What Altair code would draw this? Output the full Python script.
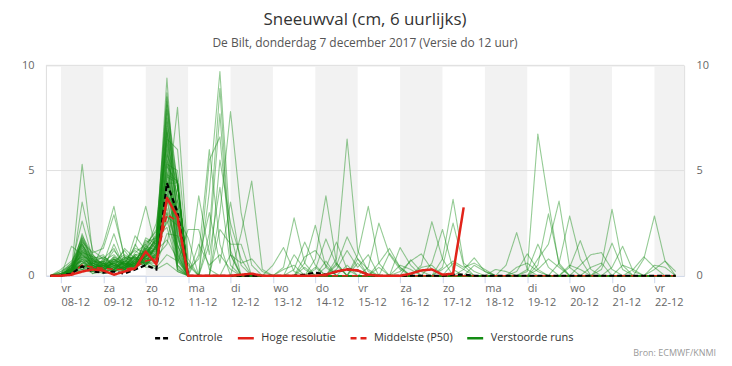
import altair as alt
import pandas as pd

title_text = "Sneeuwval (cm, 6 uurlijks)"
subtitle_text = "De Bilt, donderdag 7 december 2017 (Versie do 12 uur)"
credit_text = "Bron: ECMWF/KNMI"

# x axis: time index t in 6-hour steps, t=0 -> 07-12 18:00, t=1 -> 08-12 00:00
day_names = ["vr", "za", "zo", "ma", "di", "wo", "do", "vr", "za", "zo", "ma", "di", "wo", "do", "vr"]
day_dates = ["08-12", "09-12", "10-12", "11-12", "12-12", "13-12", "14-12", "15-12",
             "16-12", "17-12", "18-12", "19-12", "20-12", "21-12", "22-12"]
y_ticks = [0, 5, 10]

series_names = ["Controle", "Hoge resolutie", "Middelste (P50)", "Verstoorde runs"]
series_colors = ["#000000", "#e2231a", "#e2231a", "#138c13"]
series_dashes = [[5, 3], [1, 0], [6, 4], [1, 0]]

# Controle (t = 0 .. 59)
control = [0, 0, 0.1, 0.45, 0.2, 0.15, 0.2, 0.1, 0.3, 0.5,
           0.3, 4.4, 3.0, 0, 0, 0, 0, 0, 0, 0,
           0, 0, 0, 0, 0.05, 0.15, 0.05, 0.2, 0.3, 0.25,
           0.05, 0, 0, 0, 0, 0, 0, 0, 0.05, 0.05,
           0, 0, 0, 0, 0, 0, 0, 0, 0, 0,
           0, 0, 0, 0, 0, 0, 0, 0, 0, 0]
# Hoge resolutie (t = 0 .. 39)
high_res = [0, 0, 0.05, 0.2, 0.3, 0.25, 0.05, 0.2, 0.35, 1.15,
            0.55, 3.7, 2.8, 0, 0, 0, 0, 0, 0.05, 0.1,
            0, 0, 0, 0, 0, 0, 0.05, 0.2, 0.3, 0.25,
            0.05, 0, 0, 0, 0.1, 0.25, 0.3, 0.05, 0.1, 3.25]
# Middelste (P50) (t = 0 .. 59)
median_p50 = [0, 0, 0.1, 0.5, 0.4, 0.35, 0.3, 0.3, 0.4, 0.7,
              0.8, 2.9, 2.6, 0, 0, 0, 0, 0, 0, 0,
              0, 0, 0, 0, 0, 0, 0, 0, 0, 0,
              0, 0, 0, 0, 0, 0, 0, 0, 0, 0,
              0, 0, 0, 0, 0, 0, 0, 0, 0, 0,
              0, 0, 0, 0, 0, 0, 0, 0, 0, 0]

# Verstoorde runs: 50 members, values per time step t=1..13
runs_t01 = [0, 0, 0.1, 0, 0, 0.2, 0, 0, 0, 0.1, 0, 0, 0, 0.3, 0, 0, 0, 0.1, 0, 0,
            0, 0, 0, 0, 0.1, 0, 0, 0, 0, 0.2, 0, 0, 0, 0, 0, 0, 0.1, 0, 0, 0,
            0, 0, 0, 0, 0, 0.1, 0, 0, 0, 0]
runs_t02 = [0.3, 0.1, 0.5, 0.2, 0.4, 0.6, 0.1, 1.4, 0.3, 0.2, 0.5, 0.2, 0.1, 0.7, 0.3, 0.4, 0.2, 0.3, 0.1, 0.5,
            0.2, 0.3, 0.4, 0.1, 0.6, 0.2, 0.3, 0.1, 0.4, 0.5, 0.2, 0.1, 0.3, 0.2, 0.4, 0.1, 0.3, 0.2, 0.5, 0.1,
            0.3, 0.2, 0.1, 0.4, 0.2, 0.3, 0.1, 0.2, 0.3, 0.2]
runs_t03 = [5.3, 3.5, 2.6, 2.0, 1.9, 1.8, 1.8, 1.0, 1.7, 1.7, 1.6, 1.6, 1.5, 1.5, 1.4, 1.4, 1.3, 1.3, 1.2, 1.2,
            1.1, 1.1, 1.0, 1.0, 0.9, 0.9, 0.8, 0.8, 0.7, 0.7, 0.6, 0.6, 0.5, 0.5, 0.5, 0.4, 0.4, 0.3, 0.3, 0.3,
            1.2, 0.9, 0.6, 1.5, 0.8, 0.4, 1.1, 0.7, 0.5, 0.2]
runs_t04 = [1.0, 1.2, 0.8, 0.6, 1.0, 0.7, 0.9, 0.5, 0.8, 0.6, 0.4, 1.1, 0.7, 0.5, 0.9, 0.3, 0.6, 0.8, 0.4, 0.7,
            0.5, 0.9, 0.3, 0.6, 0.4, 0.8, 0.2, 0.5, 0.7, 0.3, 0.6, 0.4, 0.2, 0.5, 0.3, 0.7, 0.1, 0.4, 0.6, 0.2,
            0.5, 0.3, 0.8, 0.4, 0.2, 0.6, 0.3, 0.1, 0.4, 0.3]
runs_t05 = [0.5, 0.8, 0.3, 0.7, 0.4, 0.9, 0.5, 0.3, 0.6, 0.4, 1.5, 1.3, 0.6, 0.3, 0.8, 0.5, 0.4, 1.0, 0.2, 0.6,
            0.7, 0.3, 0.5, 0.9, 0.2, 0.4, 0.6, 0.3, 0.5, 0.8, 0.3, 0.6, 0.4, 0.2, 0.7, 0.3, 0.5, 0.2, 0.4, 0.6,
            0.3, 0.5, 0.2, 0.7, 0.4, 0.3, 0.6, 0.2, 0.5, 0.1]
runs_t06 = [0.3, 0.5, 0.6, 0.4, 0.8, 0.5, 0.3, 0.7, 0.2, 0.9, 3.3, 2.9, 2.0, 1.5, 1.3, 1.2, 0.6, 0.4, 0.8, 0.3,
            1.0, 0.5, 0.2, 0.6, 0.7, 0.3, 0.4, 0.8, 0.2, 0.5, 0.6, 0.3, 0.9, 0.4, 0.2, 0.5, 0.7, 0.3, 0.6, 0.2,
            0.4, 0.8, 0.3, 0.5, 0.6, 0.2, 0.4, 0.7, 0.3, 0.2]
runs_t07 = [0.4, 0.3, 0.2, 0.6, 0.5, 0.3, 0.7, 0.4, 0.5, 0.6, 0.8, 0.9, 0.5, 0.4, 0.3, 0.6, 1.2, 0.8, 0.3, 0.7,
            0.5, 0.9, 0.4, 0.3, 1.0, 0.6, 0.2, 0.5, 0.8, 0.4, 0.3, 0.7, 0.5, 1.3, 0.4, 0.6, 0.2, 0.9, 0.3, 0.5,
            0.7, 0.4, 0.6, 0.2, 0.8, 0.5, 0.3, 0.6, 0.4, 0.3]
runs_t08 = [0.6, 0.8, 0.5, 0.3, 0.9, 0.7, 0.4, 0.6, 1.0, 0.5, 0.4, 0.6, 0.8, 0.7, 1.9, 1.4, 0.5, 1.2, 0.6, 0.9,
            0.3, 0.8, 1.1, 0.5, 0.7, 1.3, 0.4, 0.6, 0.9, 0.5, 1.0, 0.4, 0.7, 0.8, 0.6, 0.3, 1.5, 0.5, 0.8, 0.4,
            0.6, 1.0, 0.5, 0.7, 0.3, 0.9, 0.6, 0.4, 0.8, 0.5]
runs_t09 = [0.9, 1.2, 0.7, 1.0, 0.6, 1.4, 0.8, 0.5, 1.1, 0.9, 0.7, 1.0, 0.6, 1.3, 1.2, 3.3, 1.8, 0.8, 1.6, 0.5,
            1.0, 0.7, 1.5, 0.9, 0.6, 1.1, 1.4, 0.8, 0.5, 1.2, 0.9, 1.3, 0.6, 1.0, 1.7, 0.8, 0.7, 1.1, 0.4, 0.9,
            1.2, 0.6, 1.0, 0.8, 1.5, 0.5, 0.9, 1.3, 0.7, 0.6]
runs_t10 = [1.5, 2.0, 1.2, 1.8, 0.9, 2.2, 1.4, 1.0, 1.7, 1.3, 0.8, 1.6, 1.1, 1.9, 2.5, 1.2, 1.5, 0.7, 1.8, 1.0,
            1.3, 0.9, 2.1, 1.4, 0.6, 1.7, 1.2, 1.0, 1.5, 0.8, 1.9, 1.1, 0.7, 1.6, 1.3, 0.9, 1.4, 1.8, 0.5, 1.2,
            1.0, 1.5, 0.8, 1.3, 0.6, 1.1, 1.7, 0.9, 0.4, 0.3]
runs_t11 = [9.4, 8.7, 8.5, 8.3, 8.1, 7.9, 7.7, 7.5, 7.3, 7.1, 6.9, 6.8, 6.6, 6.4, 6.3, 6.1, 6.0, 5.8, 5.7, 5.5,
            5.4, 5.2, 5.0, 4.9, 4.8, 4.6, 4.5, 4.4, 4.2, 4.0, 3.8, 3.6, 3.4, 3.2, 3.0, 2.8, 2.6, 2.3, 2.0, 1.7,
            3.5, 6.5, 5.3, 4.7, 7.0, 3.0, 2.5, 1.5, 1.0, 0.6]
runs_t12 = [2.0, 3.0, 1.5, 4.4, 2.5, 4.4, 1.0, 3.5, 4.4, 0.5, 2.8, 4.4, 1.8, 0.8, 4.3, 2.2, 0.3, 4.4, 1.2, 3.8,
            0.6, 4.4, 2.0, 1.0, 4.5, 0.4, 2.7, 4.4, 1.5, 0.2, 3.2, 0.9, 4.4, 1.4, 0.3, 2.4, 1.1, 0.5, 1.9, 0.8,
            8.0, 6.0, 5.0, 4.4, 2.9, 1.3, 3.6, 4.2, 0.7, 0.2]
runs_t13 = [0, 0, 0, 0.3, 0, 0, 0, 0, 0, 0, 1.8, 0, 0, 0, 0, 0, 0, 0, 0, 0,
            2.2, 0, 0, 0, 0, 0, 0, 0, 0, 0, 0, 0, 0, 0.6, 0, 0, 0, 0, 0, 0,
            0.8, 0.5, 0, 0, 0, 0, 0, 0, 0, 0]

# later spikes: (member, t, value)
runs_11_12_dec = [
    (20, 14, 2.2), (20, 15, 0.3),
    (0, 14, 1.0), (0, 15, 6.0), (0, 16, 1.5),
    (1, 15, 4.0), (1, 16, 9.7), (1, 17, 2.0),
    (2, 15, 2.0), (2, 16, 8.9), (2, 17, 1.0),
    (3, 14, 0.8), (3, 15, 3.0), (3, 16, 0.6), (3, 17, 3.5), (3, 18, 0.5),
    (4, 15, 5.5), (4, 16, 6.6), (4, 17, 1.2),
    (5, 16, 5.5), (5, 17, 2.5), (5, 18, 0.8),
    (6, 14, 3.8), (6, 15, 1.0), (6, 16, 4.2), (6, 17, 0.5),
    (7, 15, 1.5), (7, 16, 7.7), (7, 17, 1.0),
    (8, 16, 3.0), (8, 17, 7.8), (8, 18, 3.0), (8, 19, 0.5),
    (9, 18, 2.0), (9, 19, 4.5), (9, 20, 0.3),
    (12, 16, 2.2), (12, 17, 1.5), (12, 18, 1.5),
    (13, 14, 1.5), (13, 15, 0.5), (13, 16, 1.0), (13, 17, 0.3),
    (16, 17, 1.0), (16, 18, 0.6), (16, 19, 0.8), (16, 20, 0.2),
]
runs_13_16_dec = [
    (21, 21, 0.5), (21, 22, 1.34), (21, 23, 0.2),
    (22, 22, 0.4), (22, 23, 2.75), (22, 24, 0.6),
    (23, 23, 1.0), (23, 24, 0.3),
    (24, 23, 0.3), (24, 24, 1.6), (24, 25, 0.5),
    (25, 24, 0.6), (25, 25, 2.4), (25, 26, 0.4),
    (26, 25, 0.8), (26, 26, 3.8), (26, 27, 0.6),
    (27, 25, 0.3), (27, 26, 1.75), (27, 27, 0.5),
    (28, 26, 0.4), (28, 27, 1.6), (28, 28, 0.3),
    (29, 27, 0.8), (29, 28, 6.5), (29, 29, 1.2), (29, 30, 0.2),
    (30, 27, 0.5), (30, 28, 1.85), (30, 29, 0.8),
    (31, 29, 1.0), (31, 30, 3.3), (31, 31, 0.6),
    (32, 30, 0.4), (32, 31, 2.5), (32, 32, 1.0), (32, 33, 0.3),
    (33, 32, 1.07), (33, 33, 0.4),
    (34, 27, 0.3), (34, 28, 1.2), (34, 29, 0.4), (34, 30, 1.0),
    (35, 33, 1.34), (35, 34, 0.5),
    (36, 34, 0.76), (36, 35, 0.2),
    (37, 24, 0.9), (37, 25, 1.2), (37, 26, 0.5),
    (38, 29, 0.8), (38, 30, 0.3),
    (39, 22, 0.3), (39, 23, 0.5), (40, 25, 0.4), (41, 26, 0.7), (42, 28, 0.5),
    (43, 29, 0.6), (44, 31, 0.4), (45, 24, 0.4), (46, 27, 0.6),
]
runs_16_18_dec = [
    (10, 33, 0.2), (10, 34, 0.7), (10, 35, 1.04), (10, 36, 0.3),
    (11, 35, 0.5), (11, 36, 2.57), (11, 37, 0.8),
    (14, 36, 0.6), (14, 37, 2.2), (14, 38, 0.3),
    (15, 37, 0.8), (15, 38, 3.63), (15, 39, 0.6), (15, 40, 0.2),
    (17, 37, 0.4), (17, 38, 2.5), (17, 39, 0.5),
    (18, 39, 0.3), (18, 40, 0.85), (18, 41, 0.2),
    (19, 37, 0.3), (19, 38, 0.7), (19, 39, 0.4), (19, 40, 0.6), (19, 41, 0.3),
    (47, 33, 0.5), (47, 34, 0.3), (48, 35, 0.4), (48, 36, 0.5), (49, 38, 0.6), (49, 39, 0.3),
    (40, 31, 0.6), (40, 32, 1.3), (40, 33, 0.4),
]
runs_18_22_dec = [
    (0, 43, 0.5), (0, 44, 2.05), (0, 45, 0.3),
    (1, 44, 0.2), (1, 45, 1.04), (1, 46, 0.3),
    (2, 45, 0.3), (2, 46, 6.73), (2, 47, 3.5), (2, 48, 0.5),
    (3, 45, 0.2), (3, 46, 1.5), (3, 47, 0.4),
    (4, 46, 0.5), (4, 47, 2.94), (4, 48, 0.6),
    (5, 46, 0.8), (5, 47, 1.5), (5, 48, 3.55), (5, 49, 0.4),
    (6, 48, 0.6), (6, 49, 2.84), (6, 50, 0.8),
    (7, 49, 0.4), (7, 50, 1.67), (7, 51, 0.3),
    (8, 50, 0.5), (8, 51, 1.0), (8, 52, 1.1), (8, 53, 0.3),
    (9, 52, 0.5), (9, 53, 3.16), (9, 54, 0.5),
    (12, 52, 0.3), (12, 53, 1.55), (12, 54, 0.3),
    (13, 53, 0.4), (13, 54, 1.4), (13, 55, 0.2),
    (16, 55, 0.3), (16, 56, 0.9), (16, 57, 0.4),
    (20, 56, 0.8), (20, 57, 2.84), (20, 58, 0.7),
    (21, 57, 0.3), (21, 58, 0.7), (21, 59, 0.2),
    (22, 46, 0.3), (22, 47, 0.8), (22, 48, 0.4),
    (23, 49, 0.5), (23, 50, 0.3),
    (24, 51, 0.4), (24, 52, 0.6),
    (25, 54, 0.5), (25, 55, 0.3),
    (26, 57, 0.5), (26, 58, 0.4),
    (27, 44, 0.4), (27, 45, 0.6), (27, 46, 0.2),
    (28, 42, 0.3), (28, 43, 0.2),
    (30, 40, 0.5), (30, 41, 0.2),
]

# ---------------- build tables ----------------
N_STEPS = 60
N_MEMBERS = 50
dense_steps = [runs_t01, runs_t02, runs_t03, runs_t04, runs_t05, runs_t06, runs_t07,
               runs_t08, runs_t09, runs_t10, runs_t11, runs_t12, runs_t13]
spikes = {}
for group in (runs_11_12_dec, runs_13_16_dec, runs_16_18_dec, runs_18_22_dec):
    for m, t, v in group:
        spikes[(m, t)] = v

rows = []
for m in range(N_MEMBERS):
    for t in range(N_STEPS):
        if 1 <= t <= len(dense_steps):
            arr = dense_steps[t - 1]
            v = arr[m] if m < len(arr) else 0
        else:
            v = spikes.get((m, t), 0)
        rows.append({"t": t, "v": v, "serie": series_names[3], "run": f"m{m}"})
for t, v in enumerate(median_p50):
    rows.append({"t": t, "v": v, "serie": series_names[2], "run": "p50"})
for t, v in enumerate(control):
    rows.append({"t": t, "v": v, "serie": series_names[0], "run": "ctrl"})
for t, v in enumerate(high_res):
    rows.append({"t": t, "v": v, "serie": series_names[1], "run": "hr"})
df = pd.DataFrame(rows)

tick_pos = [1 + 4 * i for i in range(len(day_names))]
bands = pd.DataFrame({"start": [1 + 4 * i for i in range(0, len(day_names), 2)],
                      "end": [5 + 4 * i for i in range(0, len(day_names), 2)]})
grid_df = pd.DataFrame({"g": [v for v in y_ticks if v > 0]})

label_expr = "[" + ",".join(f"['{n}','{d}']" for n, d in zip(day_names, day_dates)) + \
             "][round((datum.value - 1) / 4)]"

FONT = "Open Sans"
x_scale = alt.Scale(domain=[-0.42, 59.8], nice=False, zero=False)
y_scale = alt.Scale(domain=[0, 10], nice=False)
x_axis = alt.Axis(values=tick_pos, labelExpr=label_expr, labelAlign="left", labelBaseline="top",
                  labelPadding=0, labelLineHeight=14, tickSize=7, tickColor="#ccd6eb",
                  domainColor="#ccd6eb", grid=False, labelFontSize=11, labelColor="#666666",
                  labelFont=FONT, title=None, labelOverlap=False, labelFlush=False, labelBound=False)

legend = alt.Legend(title=None, orient="none", legendX=108, legendY=264, direction="horizontal",
                    symbolType="stroke", symbolSize=256, symbolStrokeWidth=2.5, symbolOpacity=1,
                    labelFontSize=11, labelColor="#333333", labelFont=FONT, columnPadding=9,
                    labelOffset=6)
color_enc = alt.Color("serie:N", scale=alt.Scale(domain=series_names, range=series_colors), legend=legend)
dash_enc = alt.StrokeDash("serie:N", scale=alt.Scale(domain=series_names, range=series_dashes), legend=legend)

x_enc = alt.X("t:Q", scale=x_scale, axis=x_axis)

band_layer = alt.Chart(bands).mark_rect(color="#f2f2f2", clip=True).encode(
    x=alt.X("start:Q", scale=x_scale, axis=x_axis), x2="end:Q",
    y=alt.value(0), y2=alt.value(211))

grid_layer = alt.Chart(grid_df).mark_rule(color="#e0e0e0", strokeWidth=1).encode(
    y=alt.Y("g:Q", scale=y_scale, axis=None))

base = alt.Chart(df)
green_layer = base.transform_filter(alt.datum.serie == series_names[3]).mark_line(
    strokeWidth=1.1, opacity=0.45, strokeJoin="round").encode(
    x=x_enc,
    y=alt.Y("v:Q", scale=y_scale,
            axis=alt.Axis(values=y_ticks, grid=False, domain=False, ticks=False, labelPadding=12,
                          labelColor="#666666", labelFontSize=11, labelFont=FONT, title=None)),
    color=color_enc, strokeDash=dash_enc, detail="run:N")

p50_layer = base.transform_filter(alt.datum.serie == series_names[2]).mark_line(
    strokeWidth=1.6).encode(
    x=x_enc, y=alt.Y("v:Q", scale=y_scale, axis=None), color=color_enc, strokeDash=dash_enc)

ctrl_layer = base.transform_filter(alt.datum.serie == series_names[0]).mark_line(
    strokeWidth=2.2).encode(
    x=x_enc, y=alt.Y("v:Q", scale=y_scale, axis=None), color=color_enc, strokeDash=dash_enc)

hr_layer = base.transform_filter(alt.datum.serie == series_names[1]).mark_line(
    strokeWidth=2.5, strokeJoin="round").encode(
    x=x_enc,
    y=alt.Y("v:Q", scale=y_scale,
            axis=alt.Axis(orient="right", values=y_ticks, grid=False, domain=False, ticks=False,
                          labelPadding=12, labelColor="#666666", labelFontSize=11, labelFont=FONT,
                          title=None)),
    color=color_enc, strokeDash=dash_enc)

credit_layer = alt.Chart(pd.DataFrame({"c": [credit_text]})).mark_text(
    align="right", baseline="middle", fontSize=9, color="#999999", font=FONT).encode(
    x=alt.value(672), y=alt.value(288), text="c:N")

chart = alt.layer(band_layer, grid_layer, green_layer, p50_layer, ctrl_layer, hr_layer, credit_layer).resolve_axis(
    y="independent").properties(
    width=640, height=211,
    autosize=alt.AutoSizeParams(type="none"),
    padding={"left": 38, "top": 57, "right": 40, "bottom": 84},
    title=alt.TitleParams(text=title_text, subtitle=subtitle_text, anchor="middle", frame="group",
                          fontSize=17, font=FONT, fontWeight="normal", color="#333333",
                          subtitleFontSize=12, subtitleFont=FONT, subtitleColor="#555555",
                          subtitlePadding=9, offset=9),
).configure_view(stroke=None).configure(background="white")

chart.save("out.html", embed_options={"renderer": "svg", "actions": False})
